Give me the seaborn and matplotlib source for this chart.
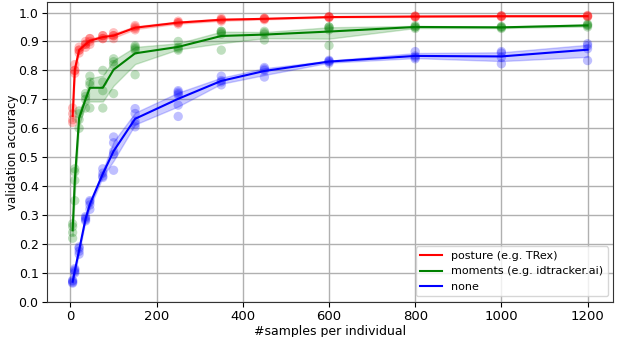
import numpy as np
import pandas as pd
import matplotlib
matplotlib.use("Agg")
import matplotlib.pyplot as plt
import seaborn as sns

samples = [5, 10, 20, 35, 45, 75, 100, 150, 250, 350, 450, 600, 800, 1000, 1200]

posture_acc = [
    [0.62, 0.63, 0.65, 0.67],
    [0.79, 0.80, 0.80, 0.82],
    [0.86, 0.87, 0.87, 0.88],
    [0.88, 0.89, 0.89, 0.90],
    [0.89, 0.90, 0.91, 0.91],
    [0.91, 0.91, 0.92, 0.92],
    [0.91, 0.92, 0.92, 0.93],
    [0.94, 0.945, 0.95, 0.955],
    [0.96, 0.965, 0.965, 0.97],
    [0.97, 0.975, 0.975, 0.98],
    [0.975, 0.978, 0.98, 0.98],
    [0.982, 0.984, 0.985, 0.986],
    [0.984, 0.986, 0.987, 0.988],
    [0.985, 0.987, 0.988, 0.989],
    [0.985, 0.987, 0.988, 0.99],
]

moments_acc = [
    [0.22, 0.24, 0.26, 0.27],
    [0.35, 0.42, 0.45, 0.46],
    [0.60, 0.63, 0.65, 0.66],
    [0.67, 0.70, 0.71, 0.72],
    [0.67, 0.75, 0.76, 0.78],
    [0.67, 0.73, 0.76, 0.80],
    [0.72, 0.82, 0.83, 0.84],
    [0.785, 0.87, 0.875, 0.88, 0.885],
    [0.87, 0.875, 0.88, 0.90],
    [0.87, 0.925, 0.93, 0.935, 0.935],
    [0.905, 0.925, 0.93, 0.935],
    [0.886, 0.94, 0.945, 0.95, 0.95],
    [0.945, 0.95, 0.95, 0.955],
    [0.945, 0.948, 0.95, 0.952],
    [0.95, 0.955, 0.957, 0.96],
]

none_acc = [
    [0.065, 0.068, 0.072, 0.075],
    [0.10, 0.105, 0.11, 0.115],
    [0.165, 0.175, 0.185, 0.19],
    [0.28, 0.285, 0.29, 0.295],
    [0.32, 0.335, 0.345, 0.35],
    [0.43, 0.435, 0.445, 0.46],
    [0.455, 0.51, 0.52, 0.55, 0.57],
    [0.605, 0.615, 0.625, 0.651, 0.668],
    [0.641, 0.68, 0.715, 0.72, 0.725, 0.73],
    [0.75, 0.76, 0.765, 0.78],
    [0.777, 0.80, 0.805, 0.81],
    [0.825, 0.83, 0.832, 0.835],
    [0.84, 0.845, 0.85, 0.865],
    [0.823, 0.845, 0.86, 0.865],
    [0.834, 0.875, 0.885, 0.892],
]

methods = ["posture (e.g. TRex)", "moments (e.g. idtracker.ai)", "none"]
colors = ["#ff0000", "#008000", "#0000ff"]

rows = []
for name, acc in zip(methods, [posture_acc, moments_acc, none_acc]):
    for s, vals in zip(samples, acc):
        for v in vals:
            rows.append({"samples": s, "accuracy": v, "method": name})
df = pd.DataFrame(rows)

plt.rcParams["font.family"] = ["DejaVu Sans"]
plt.rcParams["font.size"] = 9

fig = plt.figure(figsize=(6.17, 3.37), dpi=100)
ax = fig.add_axes([0.076, 0.104, 0.918, 0.89])

palette = dict(zip(methods, colors))
sns.scatterplot(data=df, x="samples", y="accuracy", hue="method", palette=palette,
                s=45, alpha=0.25, edgecolor="none", legend=False, ax=ax, zorder=3)
sns.lineplot(data=df, x="samples", y="accuracy", hue="method", palette=palette,
             errorbar=("ci", 95), seed=0, linewidth=1.5, ax=ax, zorder=4)

ax.set_ylim(bottom=0)
ax.set_yticks(np.arange(0, 1.01, 0.1))
ax.set_xticks([0, 200, 400, 600, 800, 1000, 1200])
ax.tick_params(axis="x", labelsize=9.5, length=3.5, pad=2.5)
ax.tick_params(axis="y", labelsize=9, length=3.5, pad=2.5)
ax.grid(True, color="#b0b0b0", linewidth=1.0)
ax.set_axisbelow(True)
for sp in ax.spines.values():
    sp.set_color("#333333")
ax.set_xlabel("#samples per individual", fontsize=9, labelpad=1)
ax.set_ylabel("validation accuracy", fontsize=8.5)
ax.yaxis.set_label_coords(-0.05, 0.5)
leg = ax.legend(loc="lower right", title=None, fontsize=8)

fig.savefig("out.png", dpi=100)
